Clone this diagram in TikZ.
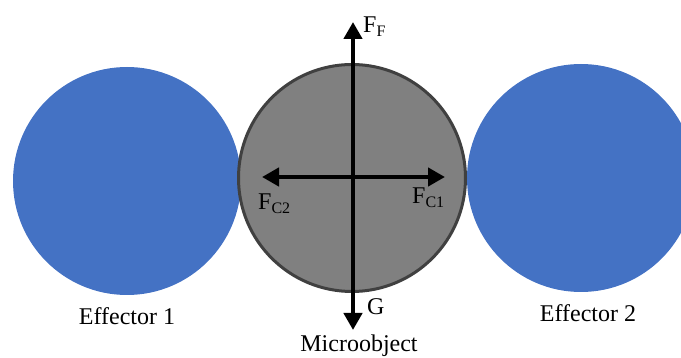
\documentclass[tikz,border=0pt]{standalone}
\usepackage{fontspec}
\setmainfont{Liberation Serif}
\usetikzlibrary{arrows.meta}
\definecolor{effblue}{HTML}{4472C4}
\definecolor{objgray}{HTML}{808080}
\definecolor{objedge}{HTML}{404040}
\newcommand{\fsub}[2]{#1\raisebox{-4pt}{\fontsize{16}{16}\selectfont #2}}

\begin{document}
\begin{tikzpicture}[x=1pt,y=-1pt,
  eff/.style={circle,fill=effblue,minimum size=228pt,inner sep=0pt},
  obj/.style={circle,fill=objgray,draw=objedge,line width=3pt,minimum size=227pt,inner sep=0pt},
  force/.style={line width=4.5pt,{Triangle[length=17pt,width=18pt]}-{Triangle[length=17pt,width=18pt]}},
  lbl/.style={inner sep=0pt,anchor=base,font=\fontsize{24}{28}\selectfont},
  flbl/.style={inner sep=0pt,anchor=base west,font=\fontsize{24}{28}\selectfont}
]
  \useasboundingbox (0,0) rectangle (681,358);
  \clip (0,0) rectangle (681,358);
  \node[eff] (eff1) at (127,181) {};
  \node[eff] (eff2) at (581,178) {};
  \node[obj] (obj) at (352,178) {};
  \coordinate (ftop) at (353,22);
  \coordinate (fbot) at (353,330);
  \coordinate (fleft) at (262,177);
  \coordinate (fright) at (445,177);
  \draw[force] (fbot) -- (ftop);
  \draw[force] (fleft) -- (fright);
  \node[flbl] (ff) at (363,33) {\fsub{F}{F}};
  \node[flbl] (fc2) at (258,210) {\fsub{F}{C2}};
  \node[flbl] (fc1) at (412,204) {\fsub{F}{C1}};
  \node[flbl] (g) at (367,315) {G};
  \node[lbl] (l1) at (127,325) {Effector 1};
  \node[lbl] (l2) at (588,322) {Effector 2};
  \node[lbl] (lm) at (359,352) {Microobject};
\end{tikzpicture}
\end{document}
